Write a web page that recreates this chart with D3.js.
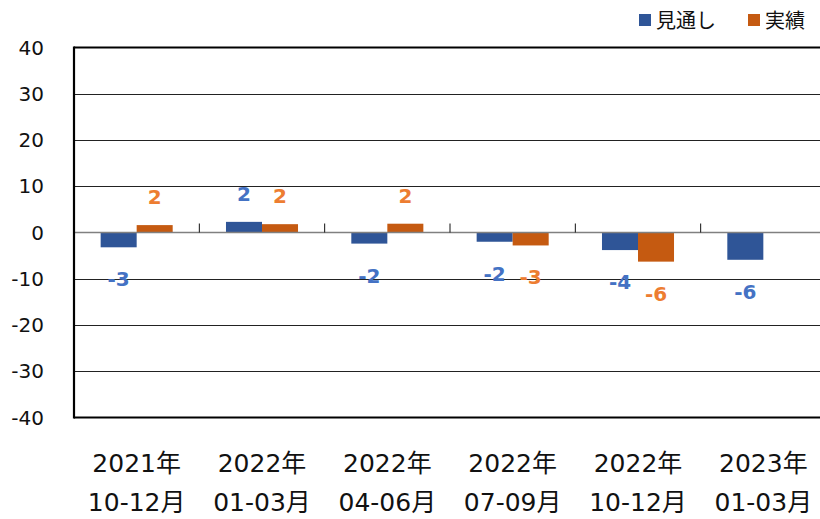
<!DOCTYPE html>
<html><head><meta charset="utf-8">
<script src="https://cdn.jsdelivr.net/npm/d3@7"></script>
<style>
html,body{margin:0;padding:0;background:#fff;}
svg{display:block;font-family:"DejaVu Sans","Noto Sans CJK JP",sans-serif;}
</style></head>
<body>
<svg id="c" width="820" height="519"></svg>
<script>
const categories = [["2021年","10-12月"],["2022年","01-03月"],["2022年","04-06月"],["2022年","07-09月"],["2022年","10-12月"],["2023年","01-03月"]];
const seriesNames = ["見通し","実績"];
const forecast = [-3.2, 2.3, -2.4, -2.0, -3.8, -5.9];
const actual = [1.6, 1.8, 1.9, -2.8, -6.3, null];
const yTicks = [40,30,20,10,0,-10,-20,-30,-40];
const barColors = ["#2F5597","#C55A11"];
const labelColors = ["#4472C4","#ED7D31"];

const svg = d3.select("#c");
const L = 74, R = 826, T = 47.5, B = 417.5;
const y = d3.scaleLinear().domain([-40,40]).range([B,T]);
const catIdx = categories.map((d,i)=>i);
const x0 = d3.scaleBand().domain(catIdx).range([L,R]).paddingInner(0).paddingOuter(0);
const x1 = d3.scaleBand().domain([0,1]).range([0,x0.bandwidth()]).paddingInner(0).paddingOuter(0.74);

// gridlines
svg.append("g").selectAll("line").data(yTicks.filter(t=>t!==40 && t!==-40 && t!==0)).join("line")
  .attr("x1",L).attr("x2",820).attr("y1",d=>Math.round(y(d))+0.5).attr("y2",d=>Math.round(y(d))+0.5)
  .attr("stroke","#222").attr("stroke-width",1);

// y tick labels
svg.append("g").selectAll("text").data(yTicks).join("text")
  .attr("x",44).attr("y",d=>y(d)).attr("dy","0.35em").attr("text-anchor","end")
  .attr("font-size",20).attr("fill","#111").text(d=>String(d));

// bars
const series = [forecast, actual];
series.forEach((vals,si)=>{
  const data = vals.map((v,i)=>({v,i})).filter(d=>d.v!==null);
  svg.append("g").selectAll("rect").data(data).join("rect")
    .attr("x",d=>x0(d.i)+x1(si)).attr("width",x1.bandwidth())
    .attr("y",d=>y(Math.max(0,d.v))).attr("height",d=>Math.abs(y(d.v)-y(0)))
    .attr("fill",barColors[si]);
});

// zero line and category ticks
svg.append("line").attr("x1",L).attr("x2",820).attr("y1",y(0)).attr("y2",y(0))
  .attr("stroke","#808080").attr("stroke-width",1.5);
svg.append("g").selectAll("line").data(d3.range(1,categories.length+1)).join("line")
  .attr("x1",d=>L+x0.step()*d).attr("x2",d=>L+x0.step()*d)
  .attr("y1",y(0)).attr("y2",y(0)-9).attr("stroke","#111").attr("stroke-width",1);

// frame
svg.append("line").attr("x1",L).attr("x2",820).attr("y1",T).attr("y2",T).attr("stroke","#000").attr("stroke-width",2.2);
svg.append("line").attr("x1",L).attr("x2",820).attr("y1",B).attr("y2",B).attr("stroke","#000").attr("stroke-width",2.2);
svg.append("line").attr("x1",L).attr("x2",L).attr("y1",T-1).attr("y2",B+1).attr("stroke","#000").attr("stroke-width",2.2);

// data labels
series.forEach((vals,si)=>{
  const data = vals.map((v,i)=>({v,i})).filter(d=>d.v!==null);
  svg.append("g").selectAll("text").data(data).join("text")
    .attr("x",d=>x0(d.i)+x1(si)+x1.bandwidth()/2)
    .attr("y",d=>d.v>=0 ? y(d.v)-28 : y(d.v)+32)
    .attr("dy","0.35em").attr("text-anchor","middle")
    .attr("font-size",20).attr("font-weight","bold").attr("fill",labelColors[si])
    .text(d=>String(Math.round(d.v)));
});

// x labels
const xl = svg.append("g").selectAll("text").data(categories.map((c,i)=>({c,i}))).join("text")
  .attr("text-anchor","middle").attr("font-size",25).attr("fill","#111");
xl.append("tspan").attr("x",d=>x0(d.i)+x0.bandwidth()/2).attr("y",463).attr("dy","0.35em").text(d=>d.c[0]);
xl.append("tspan").attr("x",d=>x0(d.i)+x0.bandwidth()/2).attr("y",502).attr("dy","0.35em").text(d=>d.c[1]);

// legend
const lg = [{x:639},{x:748}];
seriesNames.forEach((n,i)=>{
  svg.append("rect").attr("x",lg[i].x).attr("y",14).attr("width",12).attr("height",12).attr("fill",barColors[i]);
  svg.append("text").attr("x",lg[i].x+17).attr("y",21).attr("dy","0.35em").attr("font-size",20).attr("fill","#111").text(n);
});
</script>
</body></html>
